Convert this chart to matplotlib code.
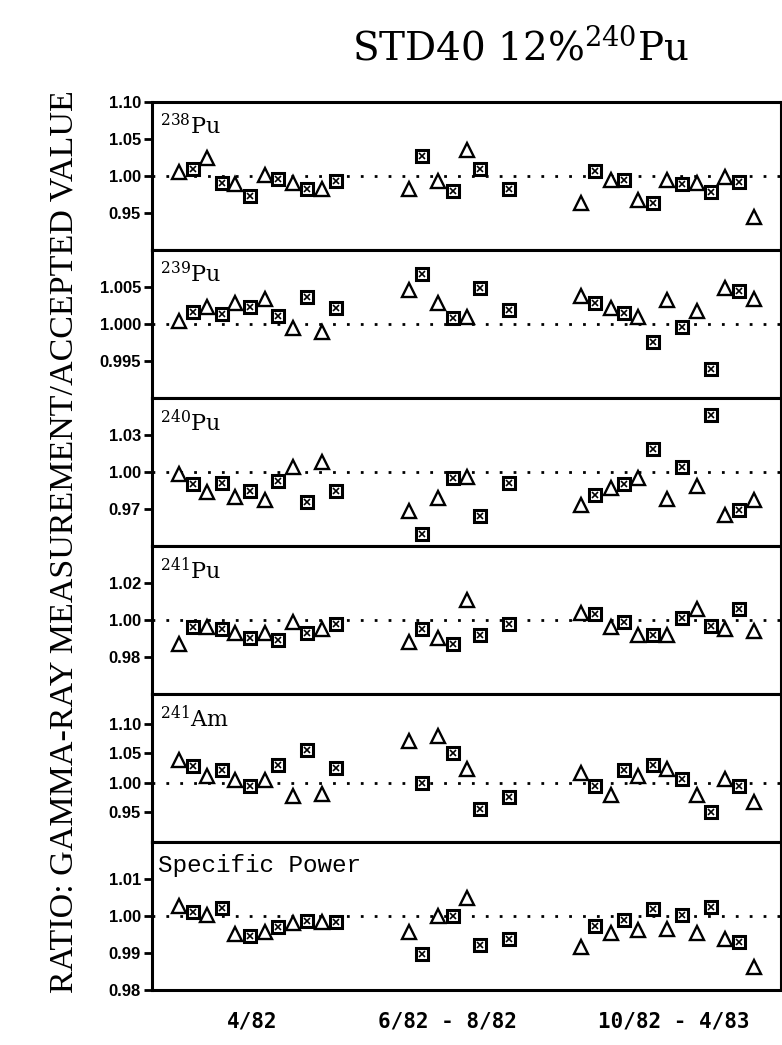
import matplotlib
matplotlib.use("Agg")
import matplotlib.pyplot as plt

# measurement positions along the run (0-100), three campaigns
x_pos = [4.3, 6.5, 8.8, 11.1, 13.2, 15.6, 17.9, 20.1, 22.4, 24.7, 27.0, 29.3,
         40.9, 43.0, 45.5, 47.8, 50.1, 52.2, 56.8,
         68.2, 70.4, 72.9, 75.1, 77.3, 79.7, 81.9, 84.2, 86.6, 88.9, 91.1, 93.4, 95.7]
# T = triangle, B = boxed cross (two detector systems)
kind = list("TBTBTBTBTBTB" + "TBTBTBB" + "TBTBTBTBTBTBT")

pu238 = [1.005, 1.010, 1.025, 0.991, 0.989, 0.973, 1.001, 0.996, 0.990, 0.983, 0.982, 0.993,
         0.982, 1.027, 0.993, 0.980, 1.035, 1.010, 0.983,
         0.963, 1.007, 0.995, 0.994, 0.967, 0.964, 0.995, 0.989, 0.990, 0.978, 0.998, 0.992, 0.944]
pu239 = [1.0004, 1.0016, 1.0023, 1.0014, 1.0029, 1.0023, 1.0034, 1.0011, 0.9995, 1.0036, 0.9989, 1.0022,
         1.0046, 1.0068, 1.0028, 1.0008, 1.0009, 1.0049, 1.0019,
         1.0038, 1.0028, 1.0021, 1.0015, 1.0009, 0.9976, 1.0033, 0.9996, 1.0017, 0.9939, 1.0049, 1.0044, 1.0034]
pu240 = [0.998, 0.990, 0.984, 0.991, 0.980, 0.985, 0.977, 0.993, 1.004, 0.976, 1.008, 0.985,
         0.968, 0.950, 0.979, 0.995, 0.996, 0.964, 0.991,
         0.973, 0.981, 0.987, 0.990, 0.995, 1.019, 0.978, 1.004, 0.989, 1.046, 0.965, 0.969, 0.977]
pu241 = [0.987, 0.996, 0.996, 0.995, 0.993, 0.990, 0.993, 0.989, 0.999, 0.993, 0.995, 0.998,
         0.988, 0.995, 0.990, 0.987, 1.011, 0.992, 0.998,
         1.004, 1.003, 0.996, 0.999, 0.992, 0.992, 0.992, 1.001, 1.006, 0.997, 0.995, 1.006, 0.994]
am241 = [1.039, 1.029, 1.011, 1.022, 1.004, 0.994, 1.004, 1.030, 0.978, 1.056, 0.981, 1.025,
         1.070, 0.999, 1.079, 1.051, 1.024, 0.955, 0.976,
         1.016, 0.995, 0.979, 1.021, 1.012, 1.030, 1.024, 1.007, 0.980, 0.950, 1.007, 0.994, 0.967]
spec_power = [1.0027, 1.0012, 1.0004, 1.0022, 0.9950, 0.9946, 0.9957, 0.9969, 0.9981, 0.9987, 0.9985, 0.9985,
              0.9957, 0.9896, 0.9999, 0.9999, 1.0050, 0.9921, 0.9937,
              0.9915, 0.9974, 0.9954, 0.9990, 0.9962, 1.0018, 0.9966, 1.0003, 0.9954, 1.0024, 0.9938, 0.9929, 0.9863]

labels = [r"$^{238}$Pu", r"$^{239}$Pu", r"$^{240}$Pu", r"$^{241}$Pu", r"$^{241}$Am", "Specific Power"]
ylims = [(0.90, 1.10), (0.990, 1.010), (0.94, 1.06), (0.96, 1.04), (0.90, 1.15), (0.98, 1.02)]
yticks = [[1.10, 1.05, 1.00, 0.95], [1.005, 1.000, 0.995], [1.03, 1.00, 0.97],
          [1.02, 1.00, 0.98], [1.10, 1.05, 1.00, 0.95], [1.01, 1.00, 0.99, 0.98]]
ytick_fmt = ["%.2f", "%.3f", "%.2f", "%.2f", "%.2f", "%.2f"]
campaigns = ["4/82", "6/82 - 8/82", "10/82 - 4/83"]
campaign_x = [16, 47, 83]

plt.rcParams["mathtext.fontset"] = "dejavuserif"

W, H = 782, 1045
fig = plt.figure(figsize=(W / 100, H / 100), dpi=100)

left, right = 152, 781
top, panel_h = 102, 148
series = [pu238, pu239, pu240, pu241, am241, spec_power]

axes = []
for i, vals in enumerate(series):
    y0 = top + panel_h * (i + 1)
    ax = fig.add_axes([left / W, 1 - y0 / H, (right - left) / W, panel_h / H])
    axes.append(ax)
    ax.set_xlim(0, 100)
    ax.set_ylim(*ylims[i])
    ax.axhline(1.0, color="black", lw=2.0, ls=(0, (1, 4)))

    tx = [x for x, k in zip(x_pos, kind) if k == "T"]
    ty = [v for v, k in zip(vals, kind) if k == "T"]
    bx = [x for x, k in zip(x_pos, kind) if k == "B"]
    by = [v for v, k in zip(vals, kind) if k == "B"]
    ax.plot(tx, ty, ls="none", marker="^", ms=9.5, mfc="white", mec="black",
            mew=1.7, clip_on=False, zorder=3)
    ax.plot(bx, by, ls="none", marker="s", ms=8, mfc="white", mec="black",
            mew=2.2, clip_on=False, zorder=3)
    ax.plot(bx, by, ls="none", marker="x", ms=4, mec="black", mew=1.2,
            clip_on=False, zorder=4)

    ax.set_yticks(yticks[i])
    ax.set_yticklabels([ytick_fmt[i] % t for t in yticks[i]],
                       fontfamily="Liberation Sans", fontweight="bold", fontsize=12)
    ax.set_xticks([])
    ax.tick_params(axis="y", direction="out", length=6, width=2, pad=2)
    for s in ["left", "top", "bottom"]:
        ax.spines[s].set_linewidth(2.2)
    ax.spines["right"].set_linewidth(1.5)

    if i < 5:
        ax.text(0.012, 0.78, labels[i], transform=ax.transAxes, fontsize=16,
                fontfamily="DejaVu Serif", va="baseline", ha="left")
    else:
        ax.text(0.01, 0.80, labels[i], transform=ax.transAxes, fontsize=17.5,
                fontfamily="Liberation Mono", va="baseline", ha="left")

bottom_ax = axes[-1]
for cx, lab in zip(campaign_x, campaigns):
    bottom_ax.text(cx, -0.21, lab, transform=bottom_ax.get_xaxis_transform(),
                   ha="center", va="center", fontsize=15,
                   fontfamily="DejaVu Sans Mono", fontweight="bold")

fig.text(520 / W, 1 - 60 / H, r"STD40 12%$^{240}$Pu", ha="center", va="baseline",
         fontsize=28, fontfamily="DejaVu Serif")
fig.text(64 / W, 0.482, "RATIO: GAMMA-RAY MEASUREMENT/ACCEPTED VALUE", rotation=90,
         ha="center", va="center", fontsize=24.5, fontfamily="Liberation Serif")

fig.savefig("out.png", dpi=100)
